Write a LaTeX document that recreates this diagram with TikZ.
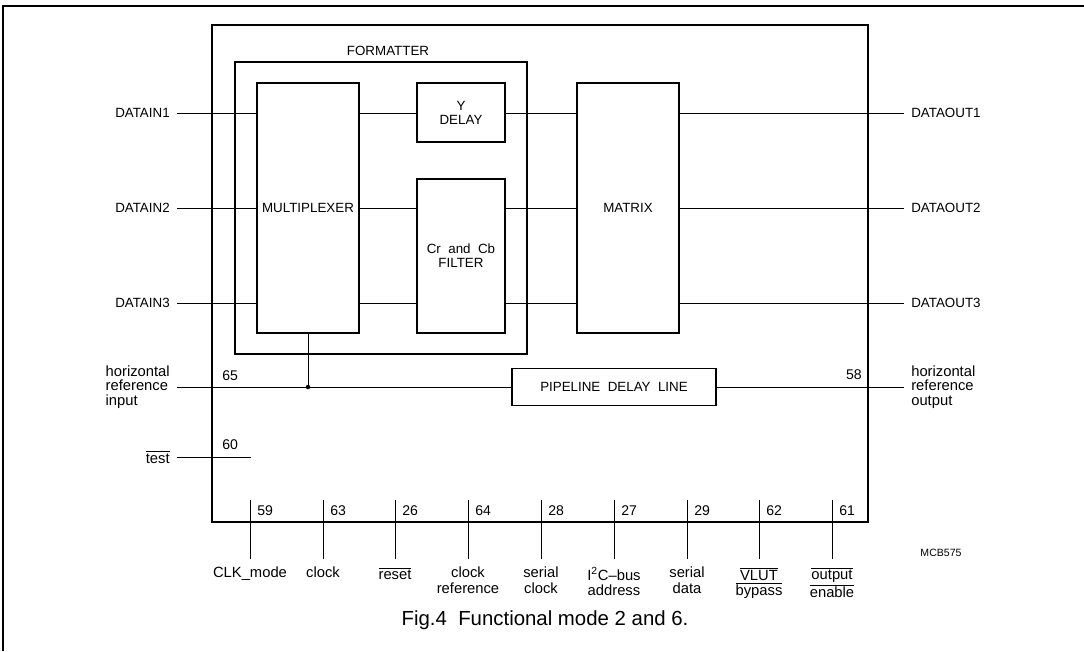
\documentclass[tikz,border=0pt]{standalone}
\usepackage{fontspec}
\setmainfont{Liberation Sans}
\usetikzlibrary{calc}

\newcommand{\ovl}[1]{$\overline{\hbox{#1}}$}

\begin{document}
\begin{tikzpicture}[x=0.025cm, y=-0.025cm,
  every node/.style={font=\fontsize{9.5}{10}\selectfont},
  wire/.style={line width=0.65pt},
  chipline/.style={line width=1.3pt},
  block/.style={draw, line width=1pt, inner sep=0pt, align=center},
  sig/.style={inner xsep=5pt, inner ysep=1pt, align=left},
  lowsig/.style={sig, font=\fontsize{10.5}{10.5}\selectfont},
  pinnum/.style={inner sep=0pt, font=\fontsize{10}{10}\selectfont},
  pinlab/.style={inner sep=2.5pt, yshift=-3pt, align=center, font=\fontsize{10.5}{11}\selectfont}]

  \def\pxu{0.025cm} % one reference pixel

  \useasboundingbox (0,0) rectangle (1084,651);

  % page frame (only top and left edges show)
  \draw[line width=1.2pt] (3,651) -- (3,6) -- (1084,6);

  %% IC outline and formatter
  \node[draw, chipline, inner sep=0pt, minimum width=656*\pxu, minimum height=497*\pxu] (chip) at (540,273.5) {};
  \node[draw, chipline, inner sep=0pt, minimum width=292*\pxu, minimum height=292*\pxu] (fmt) at (381,208) {};
  \node (fmtlab) at (388,51) {FORMATTER};

  %% Blocks
  \node[block, minimum width=102*\pxu, minimum height=250*\pxu] (mux) at (308,208) {MULTIPLEXER};
  \node[block, minimum width=88*\pxu, minimum height=59*\pxu] (ydel) at (461,112.5) {Y\\DELAY};
  \node[block, minimum width=88*\pxu, minimum height=154*\pxu] (filt) at (461,256) {Cr\ \ and\ \ Cb\\FILTER};
  \node[block, minimum width=102*\pxu, minimum height=250*\pxu] (mtx) at (628,208) {MATRIX};
  \node[block, minimum width=204*\pxu, minimum height=37*\pxu] (pdl) at (614,387) {PIPELINE\ \ DELAY\ \ LINE};

  %% Data inputs and outputs
  \foreach \i/\mid/\y in {1/ydel/113, 2/filt/208, 3/filt/303} {
    \node[sig, anchor=east] (din\i) at (177,\y) {DATAIN\i};
    \node[sig, anchor=west] (dout\i) at (904,\y) {DATAOUT\i};
    \draw[wire] (din\i.east) -- (din\i.east -| mux.west);
    \draw[wire] (din\i.east -| mux.east) -- (din\i.east -| \mid.west);
    \draw[wire] (din\i.east -| \mid.east) -- (din\i.east -| mtx.west);
    \draw[wire] (din\i.east -| mtx.east) -- (dout\i.west);
  }

  %% Horizontal reference
  \node[lowsig, anchor=east] (hrin) at (177,387) {horizontal\\reference\\input};
  \node[lowsig, anchor=west] (hrout) at (904,387) {horizontal\\reference\\output};
  \coordinate (tap) at (mux.south |- hrin.east);
  \draw[wire] (hrin.east) -- (pdl.west);
  \draw[wire] (pdl.east) -- (hrout.west);
  \draw[wire] (mux.south) -- (tap);
  \fill (tap) circle (1.6pt);
  \node[pinnum, anchor=west] (n65) at (222,376) {65};
  \node[pinnum, anchor=east] (n58) at (862,375) {58};

  %% Test pin
  \node[lowsig, anchor=east] (tst) at (177,457) {\ovl{test}};
  \coordinate (tstend) at (251,457);
  \draw[wire] (tst.east) -- (tstend);
  \node[pinnum, anchor=west] (n60) at (222,445) {60};

  %% Bottom pins
  \foreach \px/\pno/\ptxt in {250/59/{CLK\_mode}, 323/63/{clock}, 395/26/{\ovl{reset}},
      468/64/{clock\\reference}, 541/28/{serial\\clock}, 614/27/{I\textsuperscript{2}C--bus\\address},
      687/29/{serial\\data}, 759/62/{\ovl{VLUT}\\\ovl{bypass}}, 832/61/{\ovl{output}\\\ovl{enable}}} {
    \coordinate (p\pno) at (\px,500);
    \draw[wire] (p\pno) -- ++(0,59) node[pinlab, anchor=north] (lab\pno) {\ptxt};
    \node[pinnum, anchor=west] (num\pno) at (\px+7,511) {\pno};
  }

  % drawing number and caption
  \node[font=\fontsize{7.5}{8}\selectfont] (mcb) at (941,553) {MCB575};
  \node[font=\fontsize{14.5}{16}\selectfont, anchor=base] (cap) at (545,625) {Fig.4\ \ Functional mode 2 and 6.};
\end{tikzpicture}
\end{document}
